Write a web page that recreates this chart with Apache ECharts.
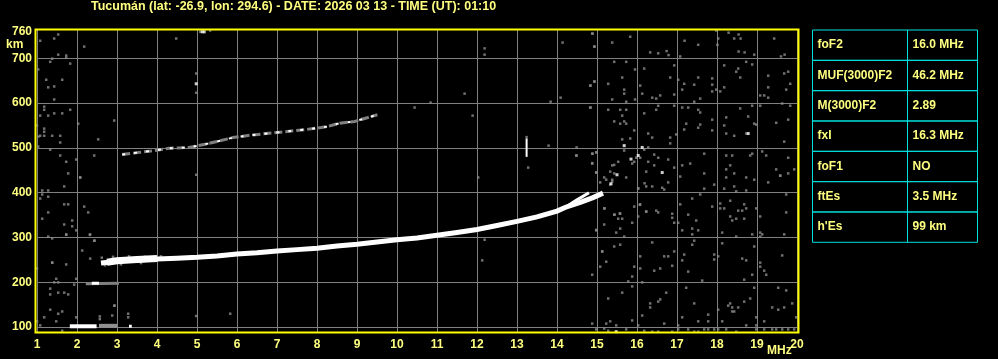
<!DOCTYPE html>
<html><head><meta charset="utf-8">
<script src="https://cdn.jsdelivr.net/npm/echarts@6/dist/echarts.min.js"></script>
<style>html,body{margin:0;padding:0;background:#000}#c{width:998px;height:359px}</style>
</head><body><div id="c"></div>
<script>
var titleText = 'Tucumán (lat: -26.9, lon: 294.6) - DATE: 2026 03 13 - TIME (UT): 01:10';
var xTicks = [1,2,3,4,5,6,7,8,9,10,11,12,13,14,15,16,17,18,19,20];
var yTickValues = [100,200,300,400,500,600,700];
var yLabelValues = [100,200,300,400,500,600,700,760];
var tableLabels = ['foF2','MUF(3000)F2','M(3000)F2','fxI','foF1','ftEs',"h'Es"];
var tableValues = ['16.0 MHz','46.2 MHz','2.89','16.3 MHz','NO','3.5 MHz','99 km'];

// F-layer main trace (MHz, km)
var fTrace = [[2.6,243],[2.8,245],[3.0,248],[3.5,250],[4.0,252],[4.5,254],[5.0,256],[5.5,259],[6.0,263],[6.5,266],[7.0,270],[7.5,273],[8.0,276],[8.5,281],[9.0,285],[9.5,290],[10.0,295],[10.5,299],[11.0,305],[11.5,311],[12.0,318],[12.5,327],[13.0,336],[13.5,346],[14.0,359],[14.2,367],[14.6,379],[14.9,389],[15.15,399]];
var fThick = [[2.75,245],[3.0,248],[3.5,251],[4.0,253]];
var fUpper = [[14.2,367],[14.5,384],[14.8,400]];
// second hop trace
var fHop2 = [[3.13,485],[3.55,490],[3.85,493],[4.3,499],[4.8,501],[5.3,510],[5.9,523],[6.4,529],[7.07,535],[7.73,541],[8.23,547],[8.57,555],[8.94,559],[9.32,569],[9.51,574]];
// sporadic / low traces
var es200Gray = [[2.22,197],[3.05,198]];
var es200White = [[2.37,198],[2.55,198]];
var eTraceWhite = [[1.82,102],[2.49,102]];
var eTraceGray = [[2.55,103],[3.0,103]];
var eTraceWhite2 = [[3.30,102],[3.37,102]];
var spike = [[13.24,480],[13.24,521]];

var noiseGray = [
[14.88,755],[15.38,735],[14.93,726],[15.83,748],[16.33,713],[16.53,711],[16.74,716],[16.79,707],[17.08,704],[17.19,739],[17.53,730],[17.98,762],[18.03,744],[18.01,730],[18.29,757],[18.54,753],[18.43,744],[18.59,744],[18.54,715],[18.69,713],[18.93,708],[19.43,744],[19.60,704],[19.69,708],
[15.43,692],[15.73,692],[15.95,675],[16.18,677],[15.63,657],[15.28,643],[14.93,648],[14.83,639],[15.68,630],[15.68,621],[15.38,608],[15.73,603],[15.95,608],[16.08,639],[16.13,621],[16.38,612],[16.48,610],[16.58,617],[16.83,657],[16.93,684],[16.93,619],[17.03,652],[17.13,630],[17.18,643],[17.43,641],[17.53,657],[17.58,610],[17.43,603],[17.88,655],[17.88,641],[17.88,626],[17.98,630],[18.08,626],[18.18,684],[18.18,635],[18.53,677],[18.48,670],[18.58,657],[18.73,692],[18.88,686],[19.28,661],[19.28,635],[19.08,617],[19.18,617],[19.28,612],[19.73,630],[19.78,670],[19.83,643],[19.68,666],
[14.83,590],[15.28,585],[15.58,585],[15.73,585],[15.63,572],[15.43,559],[15.58,554],[15.68,559],[15.73,554],[15.93,539],[16.18,577],[16.28,532],[16.38,523],[15.63,519],[15.83,521],[16.53,594],[16.48,585],[16.93,594],[16.83,523],[16.83,510],[16.98,530],[17.13,590],[17.28,590],[17.23,554],[17.18,541],[17.53,585],[17.58,579],[17.53,545],[17.58,552],[17.88,563],[17.88,539],[18.18,550],[18.23,568],[18.23,532],[18.43,527],[18.58,588],[18.78,570],[18.73,532],[18.93,554],[18.98,552],[19.48,556],[19.68,514],[19.78,563],[19.83,594],[19.63,599],[19.08,594],[18.88,594],
[15.68,494],[14.98,490],[14.88,487],[14.88,465],[14.98,445],[15.33,447],[15.38,461],[15.43,443],[15.53,469],[15.88,465],[15.93,469],[15.98,478],[16.08,478],[16.18,496],[16.28,501],[16.43,485],[16.53,478],[16.28,469],[16.43,461],[16.23,447],[16.78,474],[16.93,456],[17.13,461],[17.33,465],[17.68,487],[17.68,443],[18.23,483],[18.38,483],[18.33,461],[18.23,452],[18.43,443],[18.88,487],[18.83,483],[19.13,492],[19.23,483],[19.48,452],[19.58,438],[19.78,443],[19.78,478],[19.93,452],
[15.18,434],[15.23,429],[15.08,423],[15.38,429],[15.38,425],[15.33,418],[15.73,434],[16.03,409],[16.23,414],[16.38,414],[16.63,411],[16.68,407],[16.78,423],[17.08,436],[17.58,396],[17.68,409],[17.93,418],[18.18,409],[18.23,434],[18.43,414],[18.48,403],[18.73,434],[18.73,405],[18.93,429],[19.28,423],[19.58,438],[19.73,396],
[15.18,365],[15.43,351],[15.53,342],[15.58,353],[15.63,342],[15.18,329],[15.48,311],[15.58,320],[15.68,302],[15.88,333],[15.93,369],[16.08,374],[16.03,347],[16.23,358],[16.48,360],[16.53,356],[16.88,353],[16.88,344],[16.93,333],[17.03,333],[17.08,374],[17.28,351],[17.13,316],[17.38,320],[17.38,307],[17.53,316],[17.48,338],[17.38,387],[17.88,369],[18.08,376],[18.08,365],[18.18,365],[18.33,382],[18.33,347],[18.38,338],[18.48,342],[18.53,360],[18.63,360],[18.68,374],[18.68,342],[18.73,365],[18.98,365],[19.08,347],[19.08,311],[19.08,302],[19.13,307],[18.88,307],[18.48,302],[18.13,311],[19.68,307],[19.73,356],[14.98,316],
[14.88,217],[15.08,235],[15.13,269],[15.23,246],[15.43,280],[15.58,284],[15.88,213],[15.78,202],[15.93,235],[16.08,258],[16.08,231],[16.38,289],[16.43,226],[16.58,231],[16.68,258],[16.78,258],[16.88,237],[16.93,269],[17.18,262],[17.13,249],[17.28,224],[17.43,293],[17.38,284],[17.93,262],[17.93,251],[18.03,258],[18.13,287],[18.63,253],[18.73,249],[18.93,280],[19.08,244],[19.08,235],[19.18,226],[19.23,217],[18.88,217],[18.68,206],[19.63,260],[17.63,204],
[15.28,164],[15.63,177],[15.88,191],[15.88,115],[16.13,200],[16.13,126],[16.33,153],[16.33,144],[16.53,157],[16.58,162],[16.73,177],[16.68,108],[17.13,122],[17.23,188],[17.43,153],[17.53,113],[17.78,128],[17.78,113],[18.03,139],[18.13,113],[18.33,153],[18.28,148],[18.38,144],[18.38,135],[18.43,135],[18.53,144],[18.68,157],[18.83,164],[18.93,188],[18.98,122],[19.38,144],[19.53,188],[19.53,139],[19.68,144],[19.73,182],[19.88,153],[19.98,122],[14.88,108],[15.23,108],[15.33,113],[15.48,104],[15.18,97],
[14.98,95],[15.28,92],[15.73,95],[16.03,104],[16.18,92],[16.38,90],[16.53,90],[16.88,90],[17.03,104],[17.03,95],[17.28,95],[17.43,90],[17.53,90],[17.68,95],[17.78,95],[17.93,95],[18.03,95],[18.23,95],[18.48,90],[18.73,104],[18.98,104],[18.98,95],[19.18,95],[19.18,113],[19.38,95],[19.48,95],[19.63,95],[19.78,95],[19.93,95],
[1.08,739],[1.43,744],[1.53,753],[2.18,726],[1.53,708],[1.73,706],[1.73,701],[1.38,699],[1.33,692],[1.83,688],[1.03,675],[1.23,652],[1.63,652],[1.28,635],[1.43,637],[1.43,608],[1.18,592],[1.18,585],[1.08,572],[1.28,572],[1.43,577],[1.63,577],[1.83,585],[1.0,550],[1.18,543],[1.18,536],[1.03,525],[1.08,527],[1.18,527],[1.38,527],[1.58,527],[1.58,512],[1.03,503],[1.33,496],[1.58,483],[1.73,469],[1.78,443],[1.98,474],[2.03,554],[2.08,434],[2.43,483],[2.53,519],[2.93,561],[4.48,744],[4.98,666],[4.98,623],[4.98,440],[5.08,759],[5.33,762],
[2.08,434],[1.68,414],[1.13,405],[1.28,405],[1.13,396],[1.28,391],[1.08,387],[1.68,374],[1.78,374],[2.18,369],[2.28,356],[1.28,356],[1.13,342],[1.88,338],[1.68,329],[1.88,325],[1.98,316],[1.73,307],[2.33,307],[1.28,302],[1.38,298],[2.43,293],[2.13,271],[2.33,253],[1.38,244],[1.73,240],[1.0,231],[1.48,208],[1.43,200],[1.53,200],[1.93,195],[1.33,186],[1.53,177],[1.33,173],[1.68,177],[1.78,173],[1.98,208],[2.93,148],[1.33,139],[1.63,135],[1.53,130],[1.18,122],[1.48,113],[1.08,104],[1.0,113],[1.63,92],[1.98,122],[3.28,130],[2.88,126],[3.28,122],[2.57,118],[2.57,124],
[12.19,722],[12.19,708],[11.69,621],[10.44,590],[10.84,601],[11.89,572],[13.79,505],[13.84,603],[14.09,612],[14.14,735],[14.84,639],[14.94,648],[14.84,590],[14.94,726],[14.89,755],[14.49,501],[14.49,483],[14.89,487],[14.99,490],
[12.03,434],[12.13,249],[12.19,295],[13.28,456],[14.48,483],[14.98,445],[14.88,466],[14.98,317],[15.13,269],[15.19,365],[15.44,351],[15.57,354],[15.43,462],[16.03,410],[16.07,373],[16.19,421],[16.23,358],
[4.98,125],[5.83,130],[2.94,148],[1.73,306],[1.38,244],[2.32,306],[2.44,293],[13.24,524],
[2.62,255],[2.9,257],[3.3,258],[3.7,257],[4.1,258],[2.7,238],[3.1,240],[3.6,243]
];
var noiseWhite = [[18.78,532],[15.68,505],[16.13,501],[16.03,483],[16.63,445],[15.48,90],[4.98,643],[5.13,759],[5.18,759],[15.35,420],[15.5,440],[15.85,475]];

var chart = echarts.init(document.getElementById('c'));
var textCol = '#ffff80';
var font = '"Liberation Sans", Arial, sans-serif';
var graphics = [];
graphics.push({type:'text', left:91, top:0, style:{text:titleText, fill:textCol, font:'bold 12.5px ' + font}});
graphics.push({type:'text', left:6, top:39, style:{text:'km', fill:textCol, font:'bold 12px ' + font}});
graphics.push({type:'text', left:767, top:345, style:{text:'MHz', fill:textCol, font:'bold 12px ' + font}});
graphics.push({type:'rect', shape:{x:35.5, y:29.5, width:763, height:303}, style:{fill:'none', stroke:'#ffff00', lineWidth:2}, z:100});
var tx = 812.5, tw1 = 95, tw2 = 70, ty = 30, rh = 30.33;
for (var i = 0; i < tableLabels.length; i++) {
  var y = ty + i * rh;
  graphics.push({type:'rect', shape:{x:tx, y:y, width:tw1, height:rh}, style:{fill:'none', stroke:'#00e0e0', lineWidth:1}});
  graphics.push({type:'rect', shape:{x:tx+tw1, y:y, width:tw2, height:rh}, style:{fill:'none', stroke:'#00e0e0', lineWidth:1}});
  graphics.push({type:'text', x:tx+5, y:y+rh/2, style:{text:tableLabels[i], fill:textCol, font:'bold 12px ' + font, verticalAlign:'middle'}});
  graphics.push({type:'text', x:tx+tw1+5, y:y+rh/2, style:{text:tableValues[i], fill:textCol, font:'bold 12px ' + font, verticalAlign:'middle'}});
}

function lineS(data, color, w, z, dash) {
  return {type:'line', data:data, showSymbol:false, symbol:'none', silent:true, z:z, animation:false,
    lineStyle:{color:color, width:w, type: dash || 'solid', cap:'butt', join:'miter'}};
}

chart.setOption({
  backgroundColor:'#000',
  animation:false,
  graphic: graphics,
  grid:{left:37, right:201, top:30, bottom:26, show:false},
  xAxis:{type:'value', min:1, max:20, interval:1,
    axisLine:{show:false}, axisTick:{show:false},
    axisLabel:{color:textCol, fontWeight:'bold', fontSize:12, fontFamily:font, margin:6,
      formatter:function(v){ return xTicks.indexOf(v) >= 0 ? String(v) : ''; }},
    splitLine:{show:true, lineStyle:{color:'#808080', width:1}}},
  yAxis:{type:'value', min:87, max:763,
    axisLine:{show:false},
    axisTick:{show:false, customValues:yTickValues},
    axisLabel:{color:textCol, fontWeight:'bold', fontSize:12, fontFamily:font, margin:5, customValues:yLabelValues},
    splitLine:{show:true, lineStyle:{color:'#808080', width:1}}},
  series:[
    {type:'scatter', data:noiseGray, symbol:'rect', symbolSize:[2.5,2.5], itemStyle:{color:'#8c8c8c'}, silent:true, z:2},
    lineS(fTrace, '#ffffff', 5, 5),
    lineS(fThick, '#ffffff', 7, 5),
    lineS(fUpper, '#ffffff', 3, 5),
    lineS(fHop2, '#808080', 3, 4, [8,3]),
    lineS(fHop2, '#ffffff', 2, 5, [3,9]),
    lineS(es200Gray, '#808080', 3, 4),
    lineS(es200White, '#ffffff', 3, 5),
    lineS(eTraceWhite, '#ffffff', 4, 5),
    lineS(eTraceGray, '#909090', 4, 4),
    lineS(eTraceWhite2, '#ffffff', 3, 5),
    lineS(spike, '#ffffff', 2, 5),
    {type:'scatter', data:noiseWhite, symbol:'rect', symbolSize:[3,3], itemStyle:{color:'#ffffff'}, silent:true, z:6}
  ]
});
</script></body></html>
